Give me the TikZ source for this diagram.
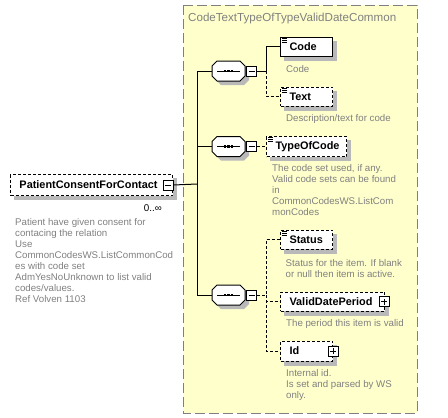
\documentclass[tikz,border=0pt]{standalone}
\usepackage{fontspec}
\setmainfont{Liberation Sans}
\usetikzlibrary{positioning}

\definecolor{grpfill}{RGB}{255,255,204}
\definecolor{docgray}{RGB}{128,128,128}
\definecolor{shadowgray}{RGB}{185,185,185}

\pgfdeclarelayer{grp}
\pgfdeclarelayer{shade}
\pgfsetlayers{grp,shade,main}

\tikzset{
  elem/.style={draw, fill=white, line width=1pt, anchor=west,
    minimum height=19pt, inner xsep=9pt, inner ysep=0pt, align=left,
    font=\fontsize{10.9}{12}\selectfont\bfseries},
  optelem/.style={elem, dash pattern=on 3pt off 2pt},
  doc/.style={anchor=north west, inner sep=0pt, align=left, text=docgray,
    font=\fontsize{9.7}{11}\selectfont},
  grptitle/.style={anchor=west, inner sep=0pt, text=docgray,
    font=\fontsize{11.6}{13}\selectfont},
  grpbox/.style={draw=docgray, fill=grpfill, line width=1pt, dash pattern=on 10pt off 4pt},
  minusbox/.style={draw, fill=white, line width=1pt, minimum size=10pt, inner sep=0pt,
    path picture={\draw[line width=1pt] ([xshift=2pt]path picture bounding box.west)
      -- ([xshift=-2pt]path picture bounding box.east);}},
  plusbox/.style={draw, fill=white, line width=1pt, minimum size=10pt, inner sep=0pt,
    path picture={\draw[line width=1pt] ([xshift=2pt]path picture bounding box.west)
      -- ([xshift=-2pt]path picture bounding box.east)
      ([yshift=2pt]path picture bounding box.south)
      -- ([yshift=-2pt]path picture bounding box.north);}},
  seqbox/.style={minimum width=33pt, minimum height=20pt, inner sep=0pt},
  compositor/.pic={
    \fill[shadowgray, shift={(4,4)}] (-16.5,-5) -- (-11.5,-10) -- (11.5,-10) -- (16.5,-5)
      -- (16.5,5) -- (11.5,10) -- (-11.5,10) -- (-16.5,5) -- cycle;
    \draw[fill=white, line width=1pt] (-16.5,-5) -- (-11.5,-10) -- (11.5,-10) -- (16.5,-5)
      -- (16.5,5) -- (11.5,10) -- (-11.5,10) -- (-16.5,5) -- cycle;
    \draw[line width=1pt] (-11.5,0) -- (11.5,0);
    \foreach \dx in {-3.5,0,3.5}
      \fill (\dx-1.3,-1.3) rectangle (\dx+1.3,1.3);
  },
  occur/.style={anchor=east, inner sep=0pt, font=\fontsize{9.8}{11}\selectfont},
  conn/.style={line width=1pt},
  optconn/.style={line width=1pt, dash pattern=on 3pt off 2pt}
}

% the little "simple type" mark on an element
\newcommand{\elemicon}[1]{\draw[line width=0.7pt] ([xshift=2pt,yshift=-1.5pt]#1.north west)
  -- ++(5,0) ++(-5,2) -- ++(5,0) ++(-5,2) -- ++(5,0);}
% grey shadow under an element box
\newcommand{\elemshadow}[1]{\begin{pgfonlayer}{shade}
  \fill[shadowgray] ([shift={(4pt,-4pt)}]#1.south west) rectangle ([shift={(4pt,-4pt)}]#1.north east);
  \end{pgfonlayer}}

\begin{document}
\begin{tikzpicture}[x=1pt, y=-1pt]
\useasboundingbox (0,0) rectangle (448,418);

% group
\begin{pgfonlayer}{grp}
\draw[grpbox] (183,5) rectangle (417,413);
\end{pgfonlayer}
\node[grptitle] (grpname) at (188,18) {CodeTextTypeOfTypeValidDateCommon};

% root element
\node[optelem, text width=144pt, minimum height=21pt] (pcfc) at (10,185) {PatientConsentForContact};
\elemshadow{pcfc}
\node[minusbox] (pcfcm) at ([xshift=-5pt]pcfc.east) {};
\node[occur] (pcfcocc) at (162,208) {0..∞};
\node[doc] (pcfcdoc) at (15,218) {Patient have given consent for\\contacing the relation\\Use\\CommonCodesWS.ListCommonCod\\es with code set\\AdmYesNoUnknown to list valid\\codes/values.\\Ref Volven 1103};

% sequences
\node[seqbox] (seq1) at (228.5,71) {};
\pic at (seq1) {compositor};
\node[minusbox, anchor=west] (seq1m) at ([xshift=1pt]seq1.east) {};
\node[seqbox] (seq2) at (228.5,146.5) {};
\pic at (seq2) {compositor};
\node[minusbox, anchor=west] (seq2m) at ([xshift=1pt]seq2.east) {};
\node[seqbox] (seq3) at (228.5,295) {};
\pic at (seq3) {compositor};
\node[minusbox, anchor=west] (seq3m) at ([xshift=1pt]seq3.east) {};

% children
\node[elem, text width=34pt] (code) at (280,46.5) {Code};
\elemshadow{code}
\elemicon{code}
\node[doc] (codedoc) at (286,65) {Code};

\node[optelem, text width=34pt] (text) at (280,96.5) {Text};
\elemshadow{text}
\elemicon{text}
\node[doc] (textdoc) at (286,114) {Description/text for code};

\node[optelem, text width=62pt, minimum height=20pt] (typeofcode) at (266,146.5) {TypeOfCode};
\elemshadow{typeofcode}
\elemicon{typeofcode}
\node[doc] (typeofcodedoc) at (272,164) {The code set used, if any.\\Valid code sets can be found\\in\\CommonCodesWS.ListCom\\monCodes};

\node[optelem, text width=34pt] (status) at (280,239.5) {Status};
\elemshadow{status}
\elemicon{status}
\node[doc] (statusdoc) at (285.5,259) {Status for the item. If blank\\or null then item is active.};

\node[optelem, text width=86pt] (vdp) at (280,301.5) {ValidDatePeriod};
\elemshadow{vdp}
\node[plusbox] (vdpp) at ([xshift=-1pt]vdp.east) {};
\node[doc] (vdpdoc) at (286,319) {The period this item is valid};

\node[optelem, text width=34pt, minimum height=20pt] (id) at (280,351) {Id};
\elemshadow{id}
\node[plusbox] (idp) at (id.east) {};
\node[doc] (iddoc) at (286,369) {Internal id.\\Is set and parsed by WS\\only.};

% connectors
\coordinate (trunk) at (197,184);
\draw[conn] (pcfcm.east) -- (trunk);
\draw[conn] (trunk) |- (seq1.west);
\draw[conn] (trunk) |- (seq2.west);
\draw[conn] (trunk) |- (seq3.west);

\coordinate (fork1) at (266,71);
\draw[conn] (seq1m.east) -- (fork1) |- (code.west);
\draw[optconn] (fork1) |- (text.west);

\draw[optconn] (seq2m.east) -- (typeofcode.west);

\coordinate (fork3) at (266,295);
\draw[optconn] (seq3m.east) -- (fork3) |- (status.west);
\draw[optconn] (fork3) |- (vdp.west);
\draw[optconn] (fork3) |- (id.west);

\end{tikzpicture}
\end{document}
